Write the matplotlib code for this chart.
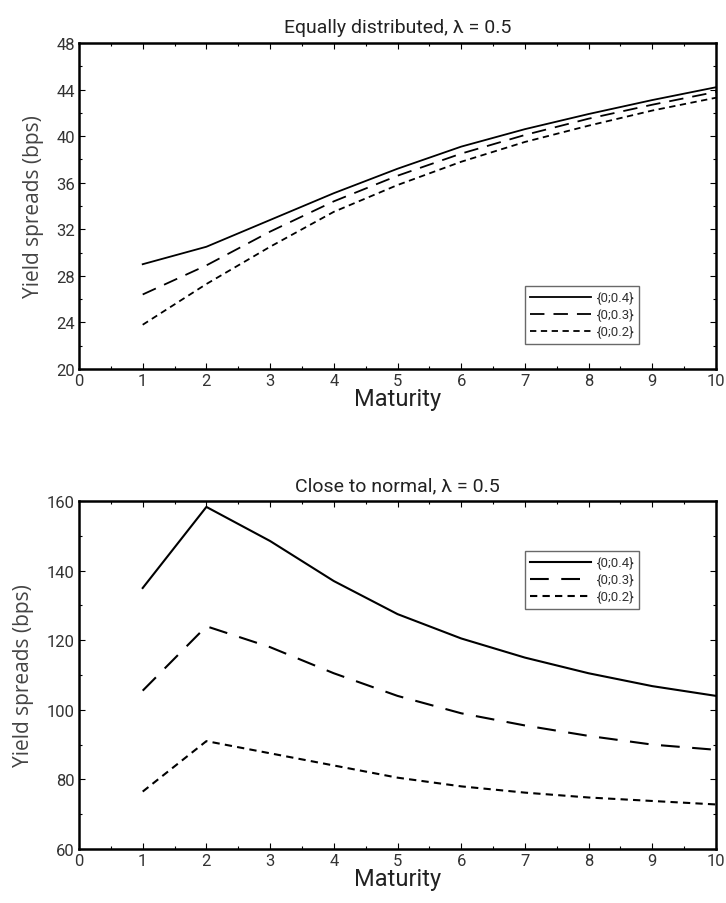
import matplotlib
matplotlib.use("Agg")
import matplotlib.pyplot as plt
from matplotlib.ticker import MultipleLocator

maturity = [1, 2, 3, 4, 5, 6, 7, 8, 9, 10]
labels = ["{0;0.4}", "{0;0.3}", "{0;0.2}"]

# top panel: equally distributed
eq_04 = [29.0, 30.5, 32.8, 35.1, 37.2, 39.1, 40.6, 41.9, 43.1, 44.2]
eq_03 = [26.4, 28.9, 31.8, 34.4, 36.6, 38.5, 40.1, 41.5, 42.7, 43.8]
eq_02 = [23.8, 27.3, 30.5, 33.5, 35.8, 37.8, 39.5, 40.9, 42.2, 43.3]

# bottom panel: close to normal
cn_04 = [135.0, 158.3, 148.5, 137.0, 127.5, 120.5, 115.0, 110.5, 106.8, 104.0]
cn_03 = [105.5, 124.0, 118.0, 110.5, 104.0, 99.0, 95.5, 92.5, 90.0, 88.5]
cn_02 = [76.5, 91.0, 87.5, 84.0, 80.5, 78.0, 76.2, 74.8, 73.8, 72.8]

narrow = ["Roboto", "DejaVu Sans"]
wide = ["Open Sans", "DejaVu Sans"]

fig = plt.figure(figsize=(7.26, 9.04), dpi=100)
ax1 = fig.add_axes([79/726, 1 - 370/904, 637/726, 326/904])
ax2 = fig.add_axes([79/726, 1 - 850/904, 637/726, 348/904])


def style_axes(ax, title, ylo, yhi, ystep):
    ax.set_xlim(0, 10)
    ax.set_ylim(ylo, yhi)
    ax.xaxis.set_major_locator(MultipleLocator(1))
    ax.xaxis.set_minor_locator(MultipleLocator(0.5))
    ax.yaxis.set_major_locator(MultipleLocator(ystep))
    ax.yaxis.set_minor_locator(MultipleLocator(ystep / 2))
    ax.tick_params(which="both", direction="in", top=True, right=True)
    ax.tick_params(which="major", length=4, width=0.8, labelsize=12,
                   labelcolor="#333333", pad=3)
    ax.tick_params(which="minor", length=2.5, width=0.8)
    for t in ax.get_xticklabels() + ax.get_yticklabels():
        t.set_family(narrow)
    for s in ax.spines.values():
        s.set_linewidth(1.8)
    ax.set_title(title, family=narrow, fontsize=14, color="#222222", pad=8)
    ax.set_xlabel("Maturity", family=narrow, fontsize=17,
                  color="#222222", labelpad=-1)
    ax.set_ylabel("Yield spreads (bps)", family=wide, fontsize=15,
                  color="#444444", labelpad=9)


def add_legend(ax, top):
    leg = ax.legend(loc="upper left", bbox_to_anchor=(446/637, top),
                    frameon=True, fancybox=False, edgecolor="#444444",
                    prop={"family": narrow, "size": 9.5},
                    handlelength=4.6, labelspacing=0.3, borderpad=0.4,
                    handletextpad=0.4, borderaxespad=0)
    leg.get_frame().set_linewidth(1.0)
    for t in leg.get_texts():
        t.set_color("#333333")


top_styles = ["-", (0, (8, 5)), (0, (3.5, 2.5))]
for vals, ls, lab in zip([eq_04, eq_03, eq_02], top_styles, labels):
    ax1.plot(maturity, vals, color="black", lw=1.3, linestyle=ls, label=lab)
style_axes(ax1, "Equally distributed, \u03bb = 0.5", 20, 48, 4)
add_legend(ax1, 1 - 243/326)

bot_styles = ["-", (0, (9, 6)), (0, (3.5, 2.5))]
for vals, ls, lab in zip([cn_04, cn_03, cn_02], bot_styles, labels):
    ax2.plot(maturity, vals, color="black", lw=1.5, linestyle=ls, label=lab)
style_axes(ax2, "Close to normal, \u03bb = 0.5", 60, 160, 20)
add_legend(ax2, 1 - 50/348)

fig.savefig("out.png", dpi=100)
